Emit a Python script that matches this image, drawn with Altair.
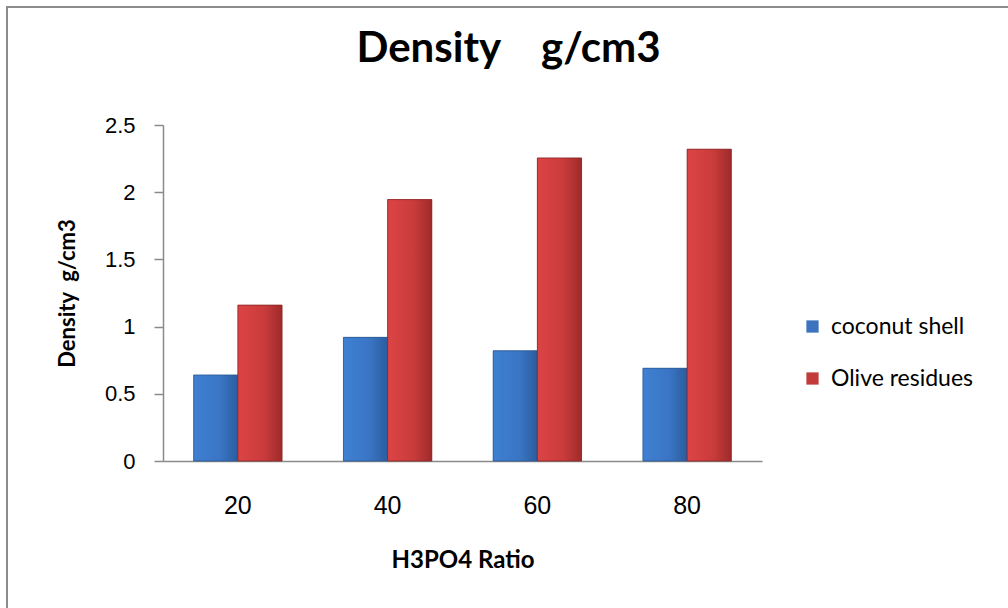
import altair as alt
import pandas as pd

ratios = ["20", "40", "60", "80"]
series = ["coconut shell", "Olive residues"]
coconut = [0.64, 0.92, 0.82, 0.69]
olive = [1.16, 1.945, 2.255, 2.32]

rows = []
for i, r in enumerate(ratios):
    rows.append({"ratio": r, "series": series[0], "value": coconut[i]})
    rows.append({"ratio": r, "series": series[1], "value": olive[i]})
df = pd.DataFrame(rows)

blue_solid = "#3b73bf"
red_solid = "#c23a3a"
blue_grad = alt.Gradient(gradient="linear", x1=0, x2=1, y1=0, y2=0,
                         stops=[alt.GradientStop(color="#3f80d2", offset=0),
                                alt.GradientStop(color="#3a75c4", offset=0.6),
                                alt.GradientStop(color="#2b5c9e", offset=1)])
red_grad = alt.Gradient(gradient="linear", x1=0, x2=1, y1=0, y2=0,
                        stops=[alt.GradientStop(color="#dc4444", offset=0),
                               alt.GradientStop(color="#c93b3b", offset=0.6),
                               alt.GradientStop(color="#9e2a2a", offset=1)])

x_enc = alt.X("ratio:N", sort=ratios,
              scale=alt.Scale(paddingInner=0.41, paddingOuter=0.205),
              axis=alt.Axis(title="H3PO4 Ratio", labelAngle=0, ticks=False,
                            labelFont="Liberation Sans", labelFontSize=25,
                            labelColor="#000000", labelPadding=32,
                            titleFont="Lato", titleFontSize=24, titleFontWeight="bold",
                            titleColor="#000000", titlePadding=30,
                            domainColor="#8a8a8a", domainWidth=1.5, grid=False))
y_enc = alt.Y("value:Q",
              scale=alt.Scale(domain=[0, 2.5], nice=False),
              axis=alt.Axis(title="Density\u00a0\u00a0g/cm3", values=[0, 0.5, 1, 1.5, 2, 2.5],
                            format="~g", tickSize=9, tickColor="#8a8a8a", tickWidth=1.5,
                            labelFont="Liberation Sans", labelFontSize=22,
                            labelColor="#000000", labelPadding=19,
                            titleFont="Lato", titleFontSize=22, titleFontWeight="bold",
                            titleColor="#000000", titlePadding=25,
                            domainColor="#8a8a8a", domainWidth=1.5, grid=False))
xo_enc = alt.XOffset("series:N", sort=series,
                     scale=alt.Scale(paddingInner=0, paddingOuter=0))

base = alt.Chart(df).mark_bar().encode(
    x=x_enc, y=y_enc, xOffset=xo_enc,
    color=alt.Color("series:N", sort=series,
                    scale=alt.Scale(domain=series, range=[blue_solid, red_solid]),
                    legend=alt.Legend(title=None, orient="none", legendX=638, legendY=190,
                                      symbolType="square", symbolSize=150,
                                      symbolStrokeWidth=0,
                                      labelFont="Lato", labelFontSize=23,
                                      labelColor="#000000", rowPadding=28,
                                      labelOffset=7)),
)

overlay = alt.Chart(df).mark_bar(strokeWidth=0.8).encode(
    x=x_enc, y=y_enc, xOffset=xo_enc,
    fill=alt.condition(alt.datum.series == "coconut shell",
                       alt.value(blue_grad), alt.value(red_grad)),
    stroke=alt.condition(alt.datum.series == "coconut shell",
                         alt.value("#2a5590"), alt.value("#8a2424")),
)

frame = alt.Chart(alt.Data(values=[{}])).mark_rect(
    fill="transparent", stroke="#8c8c8c", strokeWidth=2, clip=False
).encode(x=alt.value(-156), x2=alt.value(900), y=alt.value(-118), y2=alt.value(600))

chart = alt.layer(base, overlay, frame).properties(
    width=599, height=336,
    background="white",
    title=alt.TitleParams("Density\u00a0\u00a0\u00a0\u00a0g/cm3", font="Lato", fontSize=42, fontWeight="bold",
                          color="#000000", anchor="middle", frame="group", dx=46, dy=98,
                          baseline="alphabetic", offset=0),
    autosize=alt.AutoSizeParams(type="none"),
    padding={"left": 163, "top": 125, "right": 246, "bottom": 147},
).configure_view(strokeWidth=0, stroke="transparent")

chart.save("out.html", embed_options={"renderer": "svg", "actions": False})
